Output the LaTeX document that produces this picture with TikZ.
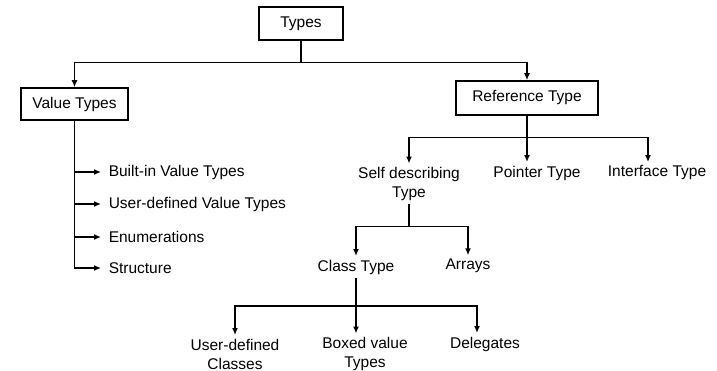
\documentclass[tikz,border=0pt]{standalone}
\usepackage{fontspec}
\setmainfont{Liberation Sans}
\usetikzlibrary{arrows.meta}

\begin{document}
\begin{tikzpicture}[x=1pt,y=-1pt,line width=1.5pt,-{Latex[length=7pt,width=6pt]}]
  \tikzstyle{typebox}=[rectangle,draw,line width=1.5pt,minimum height=33pt,font=\fontsize{15.5}{20}\selectfont]
  \tikzstyle{leaf}=[font=\fontsize{15.5}{19}\selectfont,align=center,inner xsep=2pt,inner ysep=3pt]
  \tikzstyle{item}=[font=\fontsize{15.5}{20}\selectfont,anchor=west,inner xsep=7pt]
  \useasboundingbox (0,0) rectangle (717,371);

  \node[typebox,minimum width=84pt] (types) at (301,23.5) {Types};
  \node[typebox,minimum width=107pt,minimum height=32pt] (valtypes) at (74.5,104) {Value Types};
  \node[typebox,minimum width=142pt,minimum height=34pt] (reftype) at (527,98) {Reference Type};

  \node[item] (builtin) at (101,172) {Built-in Value Types};
  \node[item] (udvalue) at (101,204) {User-defined Value Types};
  \node[item] (enums) at (101,237) {Enumerations};
  \node[item] (structure) at (101,268) {Structure};

  \node[leaf] (selfdesc) at (409,184) {Self describing\\Type};
  \node[leaf] (pointer) at (537,173) {Pointer Type};
  \node[leaf] (interface) at (657,173) {Interface Type};

  \node[leaf] (classtype) at (356,267) {Class Type};
  \node[leaf] (arrays) at (468,266) {Arrays};

  \node[leaf] (udclasses) at (235,354) {User-defined\\Classes};
  \node[leaf] (boxed) at (365,354) {Boxed value\\Types};
  \node[leaf] (delegates) at (485,344) {Delegates};

  \draw (types.south) -- ++(0,22) -| (valtypes.north);
  \draw (types.south) -- ++(0,22) -| (reftype.north);

  \draw (valtypes.south) |- (structure.west);
  \draw (valtypes.south |- builtin.west) -- (builtin.west);
  \draw (valtypes.south |- udvalue.west) -- (udvalue.west);
  \draw (valtypes.south |- enums.west) -- (enums.west);

  \draw (reftype.south) -- ++(0,22) -| (selfdesc.north);
  \draw (reftype.south) -- (reftype.south |- pointer.north);
  \draw (reftype.south) -- ++(0,22) -| ([xshift=-9pt]interface.north);

  \draw (selfdesc.south) -- ++(0,22) -| (classtype.north);
  \draw (selfdesc.south) -- ++(0,22) -| (arrays.north);

  \draw (classtype.south) -- ++(0,28) -| (udclasses.north);
  \draw (classtype.south) -- (classtype.south |- boxed.north);
  \draw (classtype.south) -- ++(0,28) -| ([xshift=-8pt]delegates.north);
\end{tikzpicture}
\end{document}
